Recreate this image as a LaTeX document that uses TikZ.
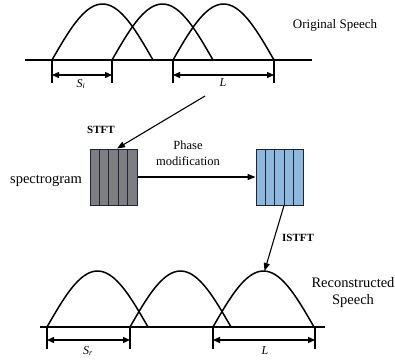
\documentclass[tikz,border=0pt]{standalone}
\usepackage{fontspec}
\setmainfont{Liberation Serif}
\usetikzlibrary{arrows.meta}

\definecolor{specgray}{RGB}{126,126,130}
\definecolor{specblue}{RGB}{143,184,222}
\definecolor{specline}{RGB}{28,36,54}

\tikzset{
  wave/.style={line width=1.5pt},
  tick/.style={line width=1.5pt},
  dimline/.style={line width=1.3pt,{Triangle[length=7pt,width=6pt]}-{Triangle[length=7pt,width=6pt]}},
  flow/.style={line width=1.1pt,-{Triangle[length=8pt,width=6pt]}},
  specbox/.style={draw=specline,line width=1pt,minimum width=47pt,minimum height=56pt,inner sep=0pt}
}

% one window: start x, base y
\newcommand{\hump}[2]{\draw[wave] plot[domain=0:180,samples=40] ({#1+\x/180*101},{#2-56*sin(\x)});}

\begin{document}
\begin{tikzpicture}[x=1pt,y=-1pt]
\useasboundingbox (0,0) rectangle (395,360);

% Original speech
\draw[wave] (25,60) -- (312,60);
\hump{52}{60}
\hump{112}{60}
\hump{173}{60}
\foreach \t in {52,112,173,274}
  \draw[tick] (\t,60) -- (\t,83);
\draw[dimline] (52,75) -- (112,75);
\draw[dimline] (173,75) -- (274,75);
\node[font=\fontsize{12}{14}\selectfont] (si) at (81,84) {\textit{S\textsubscript{i}}};
\node[font=\fontsize{12}{14}\selectfont] (ltop) at (223,83) {\textit{L}};
\node[font=\fontsize{13}{15}\selectfont] (orig) at (335,25) {Original Speech};

% STFT
\coordinate (from) at (205,96);
\node[font=\fontsize{11}{13}\selectfont\bfseries] (stft) at (101,130) {STFT};

% Spectrogram
\node[specbox,fill=specgray] (spec) at (113.5,177) {};
\foreach \i in {1,...,4}
  \draw[specline,line width=1pt] (90+\i*9.4,149) -- (90+\i*9.4,205);
\node[font=\fontsize{14.5}{16}\selectfont] (speclabel) at (46,181) {spectrogram};

% Modified spectrogram
\node[specbox,fill=specblue] (mod) at (279.5,177) {};
\foreach \i in {1,...,4}
  \draw[specline,line width=1pt] (256+\i*9.4,149) -- (256+\i*9.4,205);
\node[align=center,font=\fontsize{12.5}{16}\selectfont] (phase) at (188,153) {Phase\\modification};

% Reconstructed speech
\draw[wave] (40,327) -- (325,327);
\hump{47}{327}
\hump{130}{327}
\hump{213}{327}
\coordinate (peak) at (264.5,271);
\foreach \t in {47,130,213,315}
  \draw[tick] (\t,327) -- (\t,349);
\draw[dimline] (47,340) -- (130,340);
\draw[dimline] (213,340) -- (315,340);
\node[font=\fontsize{12}{14}\selectfont] (sr) at (88,351) {\textit{S\textsubscript{r}}};
\node[font=\fontsize{12}{14}\selectfont] (lbot) at (265,351) {\textit{L}};
\node[align=center,font=\fontsize{14.5}{17}\selectfont] (recon) at (353,293) {Reconstructed\\Speech};
\node[font=\fontsize{11}{13}\selectfont\bfseries] (istft) at (298,238) {ISTFT};

% Arrows
\draw[flow] (from) -- ([xshift=3.5pt]spec.north);
\draw[flow] (spec.east) -- (mod.west);
\draw[flow] ([xshift=4.5pt]mod.south) -- (peak);
\end{tikzpicture}
\end{document}
